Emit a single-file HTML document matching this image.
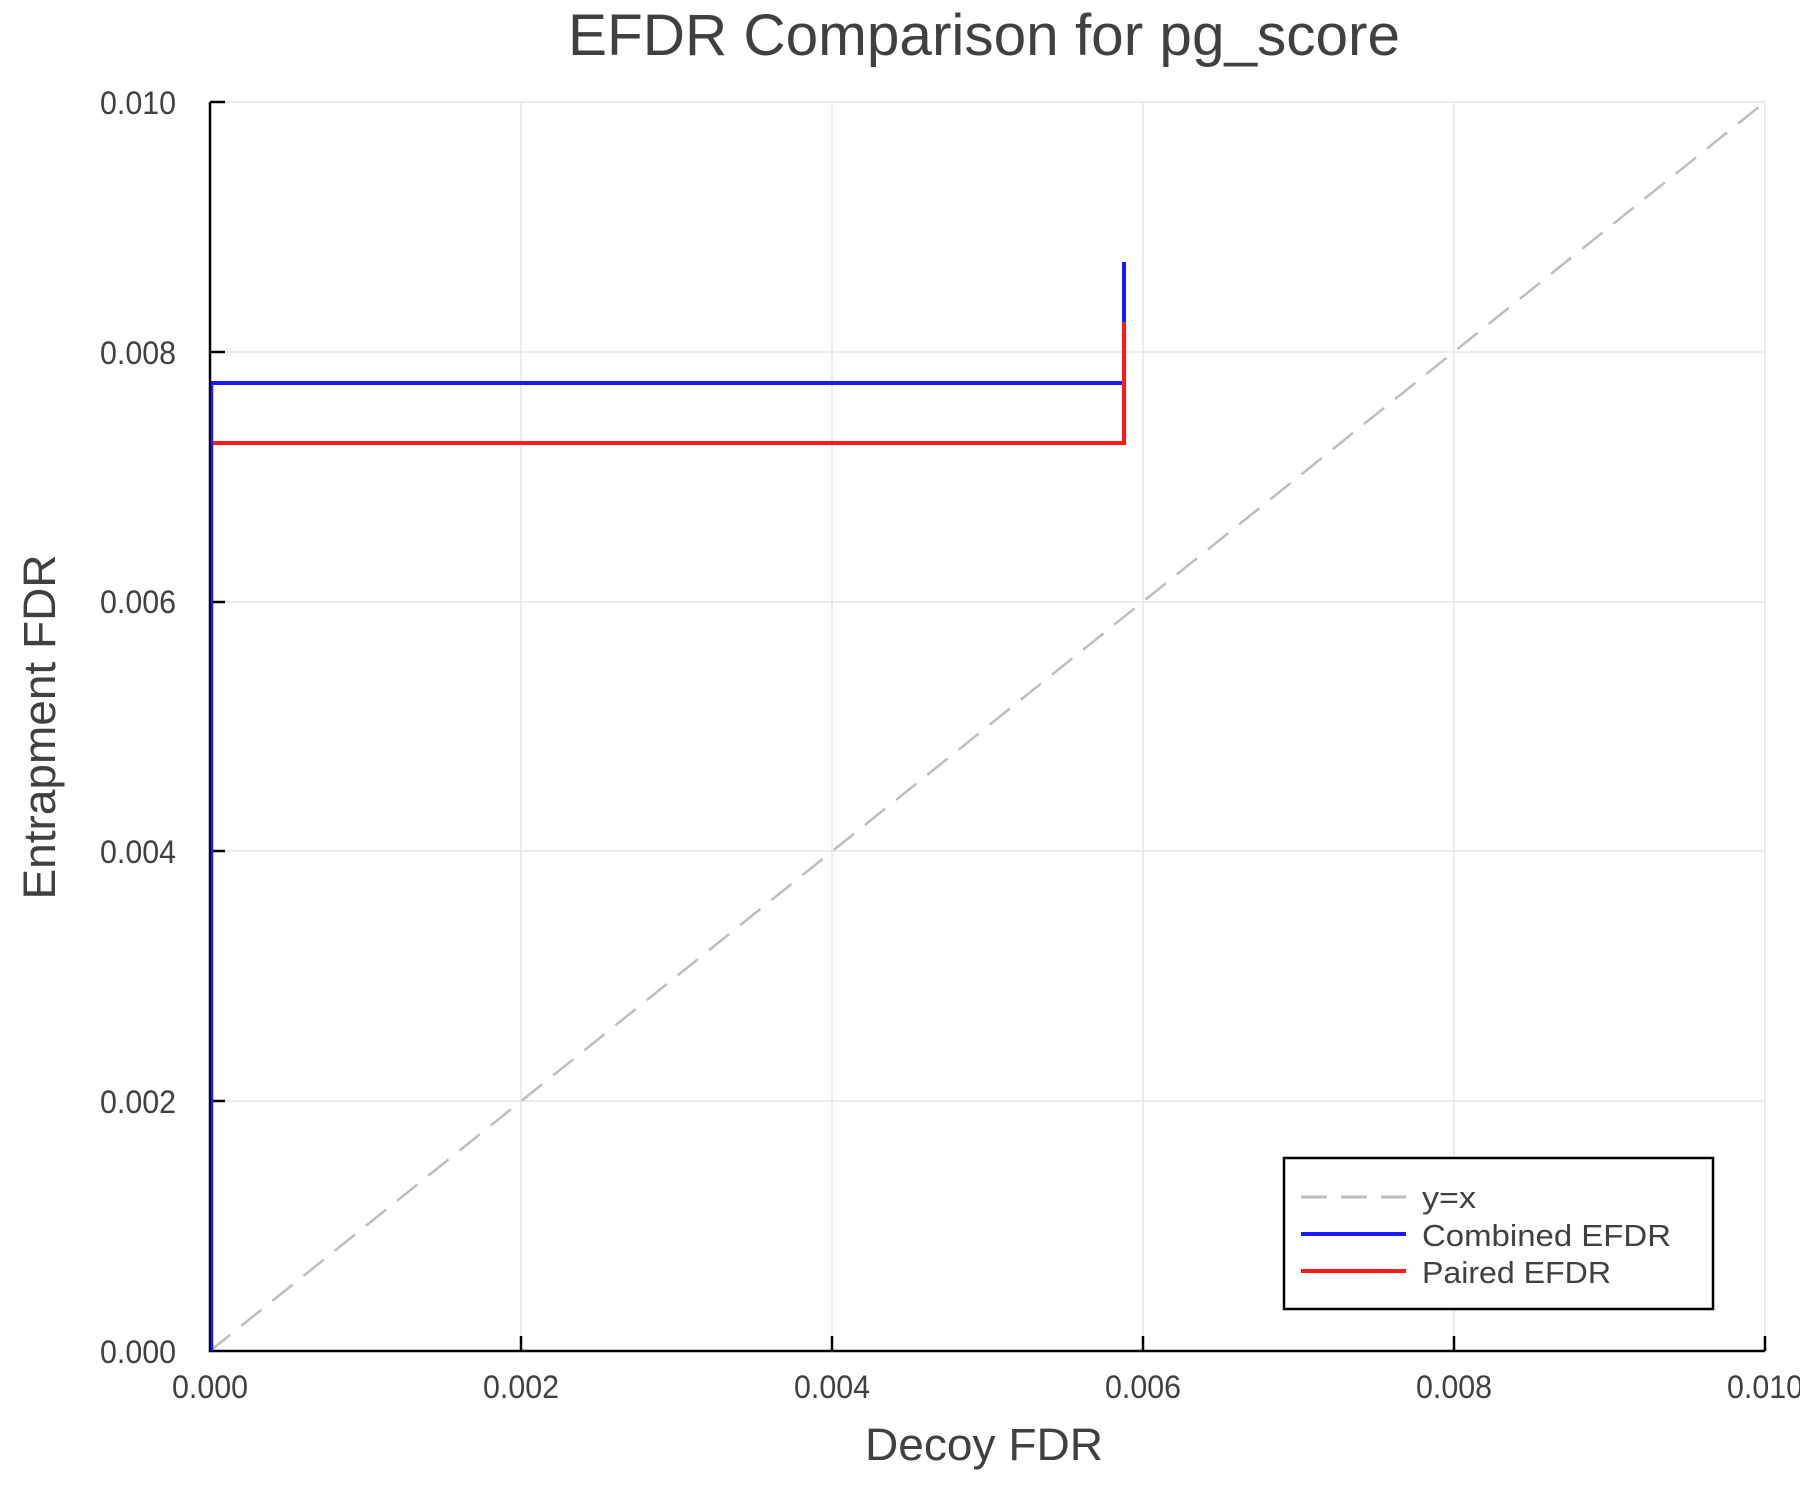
<!DOCTYPE html>
<html><head><style>body{margin:0;background:#fff}svg{display:block}text{font-family:"Liberation Sans",sans-serif;fill:#404040}</style></head>
<body>
<svg width="1800" height="1500" viewBox="0 0 1800 1500" xmlns="http://www.w3.org/2000/svg">
<rect width="1800" height="1500" fill="#fff"/>
<g stroke="#e6e6e6" stroke-width="1.5">
<line x1="521" y1="102" x2="521" y2="1351"/><line x1="832" y1="102" x2="832" y2="1351"/><line x1="1143" y1="102" x2="1143" y2="1351"/><line x1="1454" y1="102" x2="1454" y2="1351"/><line x1="1765" y1="102" x2="1765" y2="1351"/>
<line x1="210" y1="102" x2="1765" y2="102"/><line x1="210" y1="352" x2="1765" y2="352"/><line x1="210" y1="602" x2="1765" y2="602"/><line x1="210" y1="851" x2="1765" y2="851"/><line x1="210" y1="1101" x2="1765" y2="1101"/>
</g>
<line x1="210" y1="1351" x2="1765" y2="102" stroke="#bdbdbd" stroke-width="2.5" stroke-dasharray="26,14"/>
<polyline points="211,383 1124,383 1124,262" fill="none" stroke="#1a1aff" stroke-width="4"/>
<polyline points="211,443 1124,443 1124,322" fill="none" stroke="#ff1a1a" stroke-width="4"/>
<g stroke="#000" stroke-width="2.5" fill="none">
<polyline points="210,102 210,1351 1765,1351"/>
<line x1="210" y1="102" x2="225" y2="102"/><line x1="210" y1="352" x2="225" y2="352"/><line x1="210" y1="602" x2="225" y2="602"/><line x1="210" y1="851" x2="225" y2="851"/><line x1="210" y1="1101" x2="225" y2="1101"/>
<line x1="521" y1="1351" x2="521" y2="1336"/><line x1="832" y1="1351" x2="832" y2="1336"/><line x1="1143" y1="1351" x2="1143" y2="1336"/><line x1="1454" y1="1351" x2="1454" y2="1336"/><line x1="1765" y1="1351" x2="1765" y2="1336"/>
</g>
<line x1="212" y1="383" x2="212" y2="1351" stroke="#1a1aff" stroke-width="2.5"/>
<g font-size="32" text-anchor="end">
<text x="176" y="114" textLength="76" lengthAdjust="spacingAndGlyphs">0.010</text>
<text x="176" y="364" textLength="76" lengthAdjust="spacingAndGlyphs">0.008</text>
<text x="176" y="613" textLength="76" lengthAdjust="spacingAndGlyphs">0.006</text>
<text x="176" y="863" textLength="76" lengthAdjust="spacingAndGlyphs">0.004</text>
<text x="176" y="1113" textLength="76" lengthAdjust="spacingAndGlyphs">0.002</text>
<text x="176" y="1363" textLength="76" lengthAdjust="spacingAndGlyphs">0.000</text>
</g>
<g font-size="32" text-anchor="middle">
<text x="210" y="1398" textLength="76" lengthAdjust="spacingAndGlyphs">0.000</text>
<text x="521" y="1398" textLength="76" lengthAdjust="spacingAndGlyphs">0.002</text>
<text x="832" y="1398" textLength="76" lengthAdjust="spacingAndGlyphs">0.004</text>
<text x="1143" y="1398" textLength="76" lengthAdjust="spacingAndGlyphs">0.006</text>
<text x="1454" y="1398" textLength="76" lengthAdjust="spacingAndGlyphs">0.008</text>
<text x="1765" y="1398" textLength="76" lengthAdjust="spacingAndGlyphs">0.010</text>
</g>
<text x="984" y="55" font-size="58" text-anchor="middle" textLength="832" lengthAdjust="spacingAndGlyphs">EFDR Comparison for pg_score</text>
<text x="984" y="1460" font-size="45" text-anchor="middle" textLength="238" lengthAdjust="spacingAndGlyphs">Decoy FDR</text>
<text transform="translate(55,727) rotate(-90)" font-size="45" text-anchor="middle" textLength="345" lengthAdjust="spacingAndGlyphs">Entrapment FDR</text>
<rect x="1284" y="1158" width="429" height="151" fill="#fff" stroke="#000" stroke-width="2.5"/>
<line x1="1301" y1="1197" x2="1406" y2="1197" stroke="#bdbdbd" stroke-width="3" stroke-dasharray="26,14"/>
<line x1="1301" y1="1234" x2="1406" y2="1234" stroke="#1a1aff" stroke-width="4"/>
<line x1="1301" y1="1271" x2="1406" y2="1271" stroke="#ff1a1a" stroke-width="4"/>
<g font-size="31">
<text x="1422" y="1208" textLength="54" lengthAdjust="spacingAndGlyphs">y=x</text>
<text x="1422" y="1246" textLength="249" lengthAdjust="spacingAndGlyphs">Combined EFDR</text>
<text x="1422" y="1283" textLength="189" lengthAdjust="spacingAndGlyphs">Paired EFDR</text>
</g>
</svg>
</body></html>
